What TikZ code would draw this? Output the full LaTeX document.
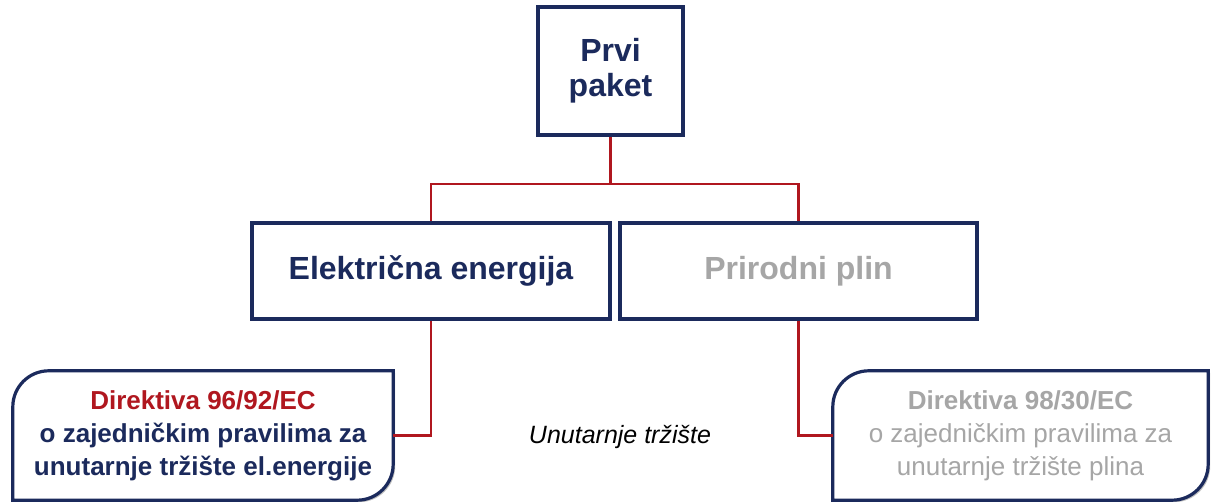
\documentclass[tikz,border=0pt]{standalone}
\usepackage{fontspec}
\setmainfont{Liberation Sans}
\usetikzlibrary{calc,shadows}

\definecolor{navy}{HTML}{1B2A5C}
\definecolor{wirered}{HTML}{B0171F}
\definecolor{lightgray}{HTML}{A6A6A6}

\begin{document}
\begin{tikzpicture}[x=1pt, y=1pt]
  % -----------------------------
  % STYLES
  % -----------------------------
  \tikzset{
    box/.style={draw=navy, line width=3.2pt, fill=white, align=center,
      drop shadow={shadow xshift=2pt, shadow yshift=-2pt, opacity=0.5}},
    big/.style={font=\fontsize{32}{35}\selectfont\bfseries},
    dirtext/.style={align=center, font=\fontsize{26}{33}\selectfont},
    rbox/.style={draw=navy, line width=3.2pt, fill=white,
      drop shadow={shadow xshift=2pt, shadow yshift=-2pt, opacity=0.5}},
    wire/.style={draw=wirered, line width=2.8pt},
  }
  \def\r{36}

  % frame
  \useasboundingbox (0,0) rectangle (1211,502);

  % -----------------------------
  % BOXES
  % -----------------------------
  \node[box, big, text=navy, minimum width=145, minimum height=128] (prvi) at (610.5,431) {Prvi\\paket};
  \node[box, big, text=navy, minimum width=358, minimum height=96] (elek) at (431,231) {Električna energija};
  \node[box, big, text=lightgray, minimum width=357, minimum height=96] (plin) at (798.5,231) {Prirodni plin};

  % directive boxes (rounded on two opposite corners)
  \node[minimum width=380, minimum height=129, inner sep=0pt] (dirEl) at (203,66.5) {};
  \node[minimum width=375, minimum height=129, inner sep=0pt] (dirPl) at (1020.5,66.5) {};

  \draw[rbox] (dirEl.south west) -- ([yshift=-\r]dirEl.north west) arc (180:90:\r)
    -- (dirEl.north east) -- ([yshift=\r]dirEl.south east) arc (0:-90:\r) -- cycle;
  \draw[rbox] (dirPl.south west) -- ([yshift=-\r]dirPl.north west) arc (180:90:\r)
    -- (dirPl.north east) -- ([yshift=\r]dirPl.south east) arc (0:-90:\r) -- cycle;

  \node[dirtext, text=navy, font=\fontsize{26}{33}\selectfont\bfseries] at (dirEl.center)
    {\textcolor{wirered}{Direktiva 96/92/EC}\\o zajedničkim pravilima za\\unutarnje tržište el.energije};
  \node[dirtext, text=lightgray] at (dirPl.center)
    {\textbf{Direktiva 98/30/EC}\\o zajedničkim pravilima za\\unutarnje tržište plina};

  \node[font=\fontsize{25}{30}\selectfont\itshape] (trziste) at (620,65) {Unutarnje tržište};

  % -----------------------------
  % CONNECTORS
  % -----------------------------
  \coordinate (bus) at (prvi.south |- 0,318);
  \draw[wire] (prvi.south) -- (bus);
  \draw[wire] (elek.north) |- (bus) -| (plin.north);
  \draw[wire] (elek.south) |- (dirEl.east);
  \draw[wire] (plin.south) |- (dirPl.west);
\end{tikzpicture}
\end{document}
